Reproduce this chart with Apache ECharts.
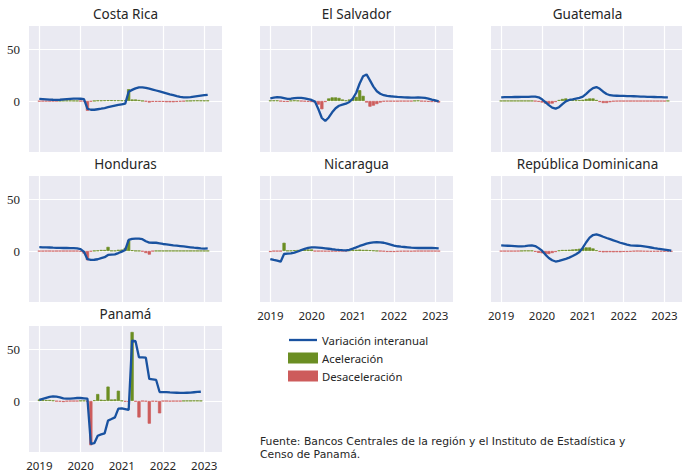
<!DOCTYPE html>
<html><head><meta charset="utf-8">
<script src="https://cdn.jsdelivr.net/npm/echarts@6/dist/echarts.min.js"></script>
<style>html,body{margin:0;padding:0;background:#fff}#c{width:682px;height:471px}</style>
</head><body><div id="c"></div>
<script>
// ---- data (monthly, starting January 2019) ----
const countries = ['Costa Rica','El Salvador','Guatemala','Honduras','Nicaragua','República Dominicana','Panamá'];
const startYear = 2019;
const yearTicks = ['2019','2020','2021','2022','2023'];
const legendNames = ['Variación interanual','Aceleración','Desaceleración'];
const sourceLines = ['Fuente: Bancos Centrales de la región y el Instituto de Estadística y', 'Censo de Panamá.'];

const crLine = [2.0,1.8,1.6,1.4,1.2,1.1,1.2,1.5,1.8,2.1,2.3,2.3,
  2.2,1.8,-7.5,-8.5,-8.5,-8.0,-7.5,-6.8,-6.0,-5.2,-4.5,-3.8,
  -3.2,-2.6,9.0,10.8,12.3,13.2,13.3,12.8,12.0,11.1,10.2,9.3,
  8.4,7.5,6.5,5.6,4.7,4.0,3.6,3.5,3.8,4.3,4.8,5.2,
  5.6,6.0];
const crChange = [-0.3,-0.2,-0.2,-0.2,-0.2,-0.1,0.1,0.3,0.3,0.3,0.2,0.1,
  -0.1,-0.4,-9.5,-0.6,0.1,0.5,0.5,0.7,0.8,0.8,0.7,0.7,
  0.6,0.6,11.5,1.5,1.5,1.0,0.1,-0.5,-1.5,-0.8,-0.8,-0.8,
  -0.8,-1.2,-1.2,-1.2,-0.9,-0.6,-0.3,0.1,0.2,0.4,0.5,0.4,
  0.4,0.4];

const esLine = [2.6,3.2,3.8,3.6,2.8,2.0,2.2,2.7,3.0,3.0,2.6,1.8,
  1.0,-0.6,-8.0,-16.5,-19.4,-16.0,-11.0,-7.0,-4.6,-3.6,-2.6,-1.0,
  2.3,8.0,17.0,24.0,25.8,20.0,14.0,9.5,7.0,5.6,5.0,4.6,
  4.3,4.0,3.8,3.6,3.4,3.2,3.2,3.4,3.3,3.0,2.3,1.3,
  0.5,-0.3];
const esChange = [0.4,0.5,0.5,-0.2,-0.8,-0.8,0.2,0.5,0.3,-0.1,-0.4,-0.8,
  -1.0,-1.5,-3.5,-8.0,-1.0,2.5,3.5,3.5,3.0,1.5,0.5,1.5,
  2.0,4.0,10.5,5.0,-1.5,-5.5,-4.5,-3.0,-1.5,-0.5,-0.3,-0.3,
  -0.3,-0.3,-0.2,-0.2,-0.2,-0.2,0.2,0.4,-0.2,-0.4,-0.8,-1.0,
  -1.0,-1.5];

const gtLine = [3.6,3.7,3.8,3.8,3.9,3.9,4.0,4.0,4.1,4.2,4.2,3.6,
  1.6,-1.0,-4.0,-6.5,-7.4,-6.0,-3.0,-0.3,1.0,1.6,2.3,3.0,
  4.2,7.0,10.0,12.5,13.5,11.8,9.0,6.8,5.6,5.2,5.1,5.0,
  4.9,4.8,4.7,4.6,4.5,4.3,4.2,4.1,4.0,3.9,3.8,3.7,
  3.6,3.6];
const gtChange = [0.1,0.1,0.1,0.1,0.1,0.1,0.1,0.1,0.1,0.1,-0.2,-0.8,
  -1.5,-2.5,-3.0,-2.5,-1.0,1.0,2.0,2.5,1.5,0.8,0.7,0.8,
  1.2,2.0,2.5,2.5,1.0,-1.0,-2.0,-2.0,-1.2,-0.4,-0.2,-0.1,
  -0.1,-0.1,-0.1,-0.1,-0.1,-0.1,-0.1,-0.1,-0.1,-0.1,-0.1,-0.1,
  -0.1,0.1];

const hnLine = [3.8,3.6,3.5,3.4,3.2,3.1,3.0,2.9,2.9,2.8,2.7,2.6,
  1.9,-0.8,-8.0,-8.7,-8.5,-8.0,-7.0,-6.0,-3.8,-3.5,-3.2,-2.0,
  -0.6,1.0,10.8,11.8,12.0,12.0,11.5,9.5,8.2,8.0,8.0,7.5,
  6.8,6.4,6.0,5.5,5.2,4.8,4.4,4.0,3.6,3.2,2.9,2.6,
  2.4,2.5];
const hnChange = [-0.2,-0.2,-0.1,-0.1,-0.2,-0.1,-0.1,-0.1,-0.1,-0.1,-0.1,-0.1,
  -0.7,-2.5,-9.0,-0.5,0.2,0.5,1.0,1.0,4.0,0.3,0.3,1.2,
  1.4,3.0,10.5,0.8,0.2,0.1,-0.5,-2.0,-3.5,-0.2,0.1,0.1,
  0.1,0.1,0.1,0.1,0.1,0.1,0.1,0.1,0.1,0.1,0.1,0.1,
  0.1,0.1];

const niLine = [-7.8,-8.7,-9.4,-10.4,-2.9,-2.6,-2.4,-1.6,-0.5,0.8,2.0,3.0,
  3.6,3.6,3.3,3.0,2.6,2.2,1.7,1.3,1.0,0.8,0.7,1.2,
  2.3,3.5,4.9,6.0,7.1,7.9,8.4,8.5,8.4,8.0,7.1,6.2,
  5.2,4.6,4.2,3.9,3.6,3.2,3.0,2.9,2.9,2.9,2.9,2.9,
  2.8,2.6];
const niChange = [-1.0,-0.2,-0.2,-0.2,8.0,0.3,0.3,0.8,1.0,1.2,1.2,1.5,
  1.5,-0.2,-0.2,-0.2,-0.3,-0.3,-0.3,-0.3,-0.2,-0.1,-0.1,0.5,
  1.1,1.2,1.4,1.1,1.1,0.8,0.5,0.1,-0.1,-0.4,-0.9,-0.9,
  -1.0,-0.6,-0.4,-0.3,-0.3,-0.4,-0.2,-0.1,-0.1,-0.1,-0.1,-0.1,
  -0.1,-0.2];

const rdLine = [5.5,5.3,5.1,4.9,4.7,4.5,4.5,4.8,5.2,5.5,4.8,2.8,
  0.3,-3.5,-6.8,-9.0,-10.2,-9.6,-8.6,-7.6,-6.4,-4.9,-3.2,-1.0,
  3.2,8.5,13.0,15.5,16.2,15.2,13.8,12.6,11.5,10.3,9.2,8.0,
  7.1,6.2,5.5,5.2,5.1,4.9,4.5,4.0,3.4,2.8,2.3,1.9,
  1.4,0.9,0.3];
const rdChange = [-0.2,-0.2,-0.2,-0.2,-0.2,-0.1,0.1,0.3,0.3,0.3,-0.8,-1.8,
  -2.2,-3.0,-3.0,-2.0,-1.0,0.5,1.0,1.0,1.2,1.5,1.8,2.2,
  3.0,3.5,3.5,2.5,0.7,-0.8,-1.3,-1.2,-1.1,-1.2,-1.1,-1.2,
  -0.9,-0.9,-0.7,-0.3,-0.1,-0.2,-0.4,-0.5,-0.6,-0.6,-0.5,-0.4,
  -0.5,-0.5,-0.6];

const paLine = [1.0,2.0,3.0,4.0,4.5,4.2,3.6,2.6,2.3,2.3,2.6,2.9,
  2.9,2.6,2.3,-41.7,-41.0,-33.7,-32.4,-31.4,-19.0,-17.5,-15.9,-7.4,
  -7.1,-7.8,-8.7,58.6,58.0,42.4,42.4,42.0,21.4,21.0,20.4,8.7,
  8.7,8.7,8.4,8.2,8.0,7.8,7.8,8.0,8.2,8.5,8.8,9.0];
const paChange = [1.5,1.0,1.0,1.0,0.5,-0.3,-0.6,-1.0,-0.3,-0.1,-0.1,-0.1,
  0.3,0.3,-0.3,-43.0,0.7,6.8,1.3,1.0,14.0,1.5,1.6,10.0,
  0.3,-0.7,-0.9,67.0,-0.6,-16.0,-0.1,-0.4,-22.0,-0.4,-0.6,-12.0,
  -0.1,-0.1,-0.3,-0.2,-0.2,-0.2,0.1,0.2,0.2,0.3,0.3,0.2];

const lines = [crLine, esLine, gtLine, hnLine, niLine, rdLine, paLine];
const changes = [crChange, esChange, gtChange, hnChange, niChange, rdChange, paChange];

// ---- layout / style ----
const colLeft = [29, 260, 491], rowTop = [26, 176, 326], W = 193, H = 126;
const pos = [[0,0],[0,1],[0,2],[1,0],[1,1],[1,2],[2,0]];
const showX = [false,false,false,false,true,true,true];
const C_LINE = '#1952a0', C_UP = '#6b8e23', C_DN = '#cd5c5c', BG = '#eaeaf2', TXT = '#262626';
const SANS = 'Noto Sans', SERIF = 'Liberation Serif';

const grid = [], xAxis = [], yAxis = [], series = [], graphic = [];
pos.forEach(([r, c], i) => {
  grid.push({left: colLeft[c], top: rowTop[r], width: W, height: H, backgroundColor: BG, show: true, borderWidth: 0});
  xAxis.push({gridIndex: i, type: 'value', min: 2018.75, max: 2023.43, splitNumber: 5,
    axisLine: {show: false}, axisTick: {show: false},
    splitLine: {show: true, showMinLine: false, showMaxLine: false, lineStyle: {color: '#ffffff', width: 1.2}},
    axisLabel: {show: showX[i], showMinLabel: false, showMaxLabel: false, margin: 7,
      formatter: v => yearTicks.includes(String(Math.round(v))) && Math.abs(v - Math.round(v)) < 1e-6 ? String(Math.round(v)) : '',
      fontFamily: SANS, fontSize: 11.5, color: TXT}});
  yAxis.push({gridIndex: i, type: 'value', min: -49.5, max: 72.8, splitNumber: 2,
    axisLine: {show: false}, axisTick: {show: false},
    splitLine: {show: true, showMinLine: false, showMaxLine: false, lineStyle: {color: '#ffffff', width: 1.2}},
    axisLabel: {show: c === 0, showMinLabel: false, showMaxLabel: false, margin: 9,
      fontFamily: SERIF, fontSize: 13, color: TXT}});
  const xs = lines[i].map((_, k) => startYear + k / 12);
  const ch = changes[i];
  series.push({name: legendNames[1], type: 'bar', xAxisIndex: i, yAxisIndex: i, barWidth: 3.2, barGap: '-100%',
    itemStyle: {color: C_UP, borderColor: C_UP, borderWidth: 0.7}, z: 2, silent: true,
    data: ch.map((v, k) => [startYear + k / 12, v >= 0 ? v : null])});
  series.push({name: legendNames[2], type: 'bar', xAxisIndex: i, yAxisIndex: i, barWidth: 3.2, barGap: '-100%',
    itemStyle: {color: C_DN, borderColor: C_DN, borderWidth: 0.7}, z: 2, silent: true,
    data: ch.map((v, k) => [startYear + k / 12, v < 0 ? v : null])});
  series.push({name: legendNames[0], type: 'line', xAxisIndex: i, yAxisIndex: i, symbol: 'none', z: 4, silent: true,
    lineStyle: {color: C_LINE, width: 2.3}, itemStyle: {color: C_LINE},
    data: lines[i].map((v, k) => [xs[k], v])});
  graphic.push({type: 'text', x: colLeft[c] + W / 2, y: rowTop[r] - 12,
    style: {text: countries[i], align: 'center', verticalAlign: 'middle', font: '13.5px "' + SANS + '"', fill: TXT}});
});
sourceLines.forEach((t, k) => {
  graphic.push({type: 'text', x: 260, y: 441.2 + k * 12.8, style: {text: t, align: 'left', verticalAlign: 'middle',
    font: '10.8px "DejaVu Sans"', fill: TXT}});
});

const chart = echarts.init(document.getElementById('c'), null, {renderer: 'svg'});
chart.setOption({
  animation: false,
  grid, xAxis, yAxis, series, graphic,
  legend: {orient: 'vertical', left: 283, top: 329, itemWidth: 28, itemHeight: 9, itemGap: 6,
    data: [{name: legendNames[0], icon: 'path://M0,0 H28 V2.3 H0 Z'}, {name: legendNames[1], icon: 'rect'}, {name: legendNames[2], icon: 'rect'}],
    selectedMode: false,
    textStyle: {fontFamily: SANS, fontSize: 11.3, color: TXT, lineHeight: 12}}
});
</script></body></html>
